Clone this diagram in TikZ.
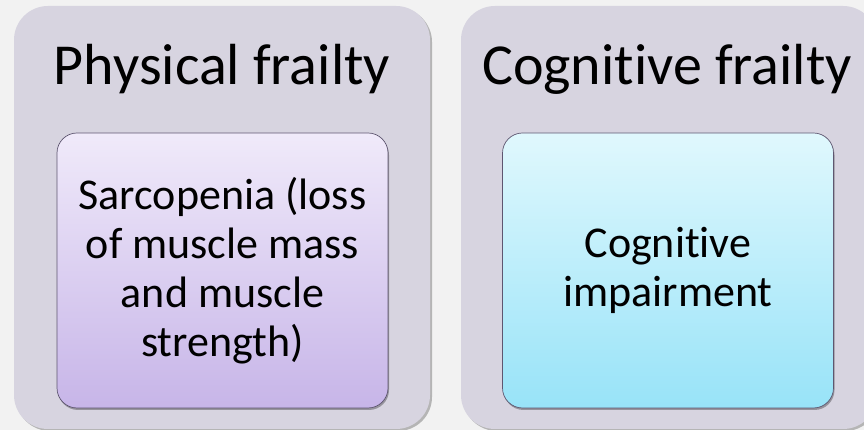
\documentclass[tikz,border=0pt]{standalone}
\usepackage{fontspec}
\setmainfont{Carlito}[Ligatures=NoCommon]
\usetikzlibrary{shadows}
\definecolor{bgcol}{HTML}{F2F2F2}
\definecolor{outerfill}{HTML}{D7D4E0}
\definecolor{purtop}{HTML}{F0EAFA}
\definecolor{purbot}{HTML}{C7B5E8}
\definecolor{cyantop}{HTML}{E0F8FD}
\definecolor{cyanbot}{HTML}{98E3F8}
\definecolor{innerline}{HTML}{5E5670}
\begin{document}
\begin{tikzpicture}[x=1pt,y=1pt,
  outerbox/.style={fill=outerfill, rounded corners=34pt, minimum width=416pt, minimum height=423pt,
    inner sep=0pt, drop shadow={shadow xshift=2pt, shadow yshift=-2pt, opacity=0.25, fill=black}},
  innerbox/.style={draw=innerline, line width=0.7pt, rounded corners=20pt, minimum width=331pt,
    minimum height=275pt, inner sep=0pt,
    drop shadow={shadow xshift=1pt, shadow yshift=-2pt, opacity=0.3, fill=black}},
  titletext/.style={font=\fontsize{58}{68}\selectfont, anchor=base},
  bodytext/.style={font=\fontsize{44}{49}\selectfont, align=center}
]
\useasboundingbox (0,0) rectangle (864,430);
\clip (0,0) rectangle (864,430);
\fill[bgcol] (0,0) rectangle (864,430);
% outer boxes
\node[outerbox] (L) at (222,212.5) {};
\node[outerbox] (R) at (669,212.5) {};
% titles
\node[titletext] (Lt) at (222,345) {Physical frailty};
\node[titletext] (Rt) at (667,345) {Cognitive frailty};
% inner boxes
\node[innerbox, top color=purtop, bottom color=purbot] (Li) at (222.5,159.5) {};
\node[innerbox, top color=cyantop, bottom color=cyanbot] (Ri) at (668,159.5) {};
% inner texts
\node[bodytext] (Lx) at (Li.center) {Sarcopenia (loss\\of muscle mass\\and muscle\\strength)};
\node[bodytext] (Rx) at (Ri.center) {Cognitive\\impairment};
\end{tikzpicture}
\end{document}
